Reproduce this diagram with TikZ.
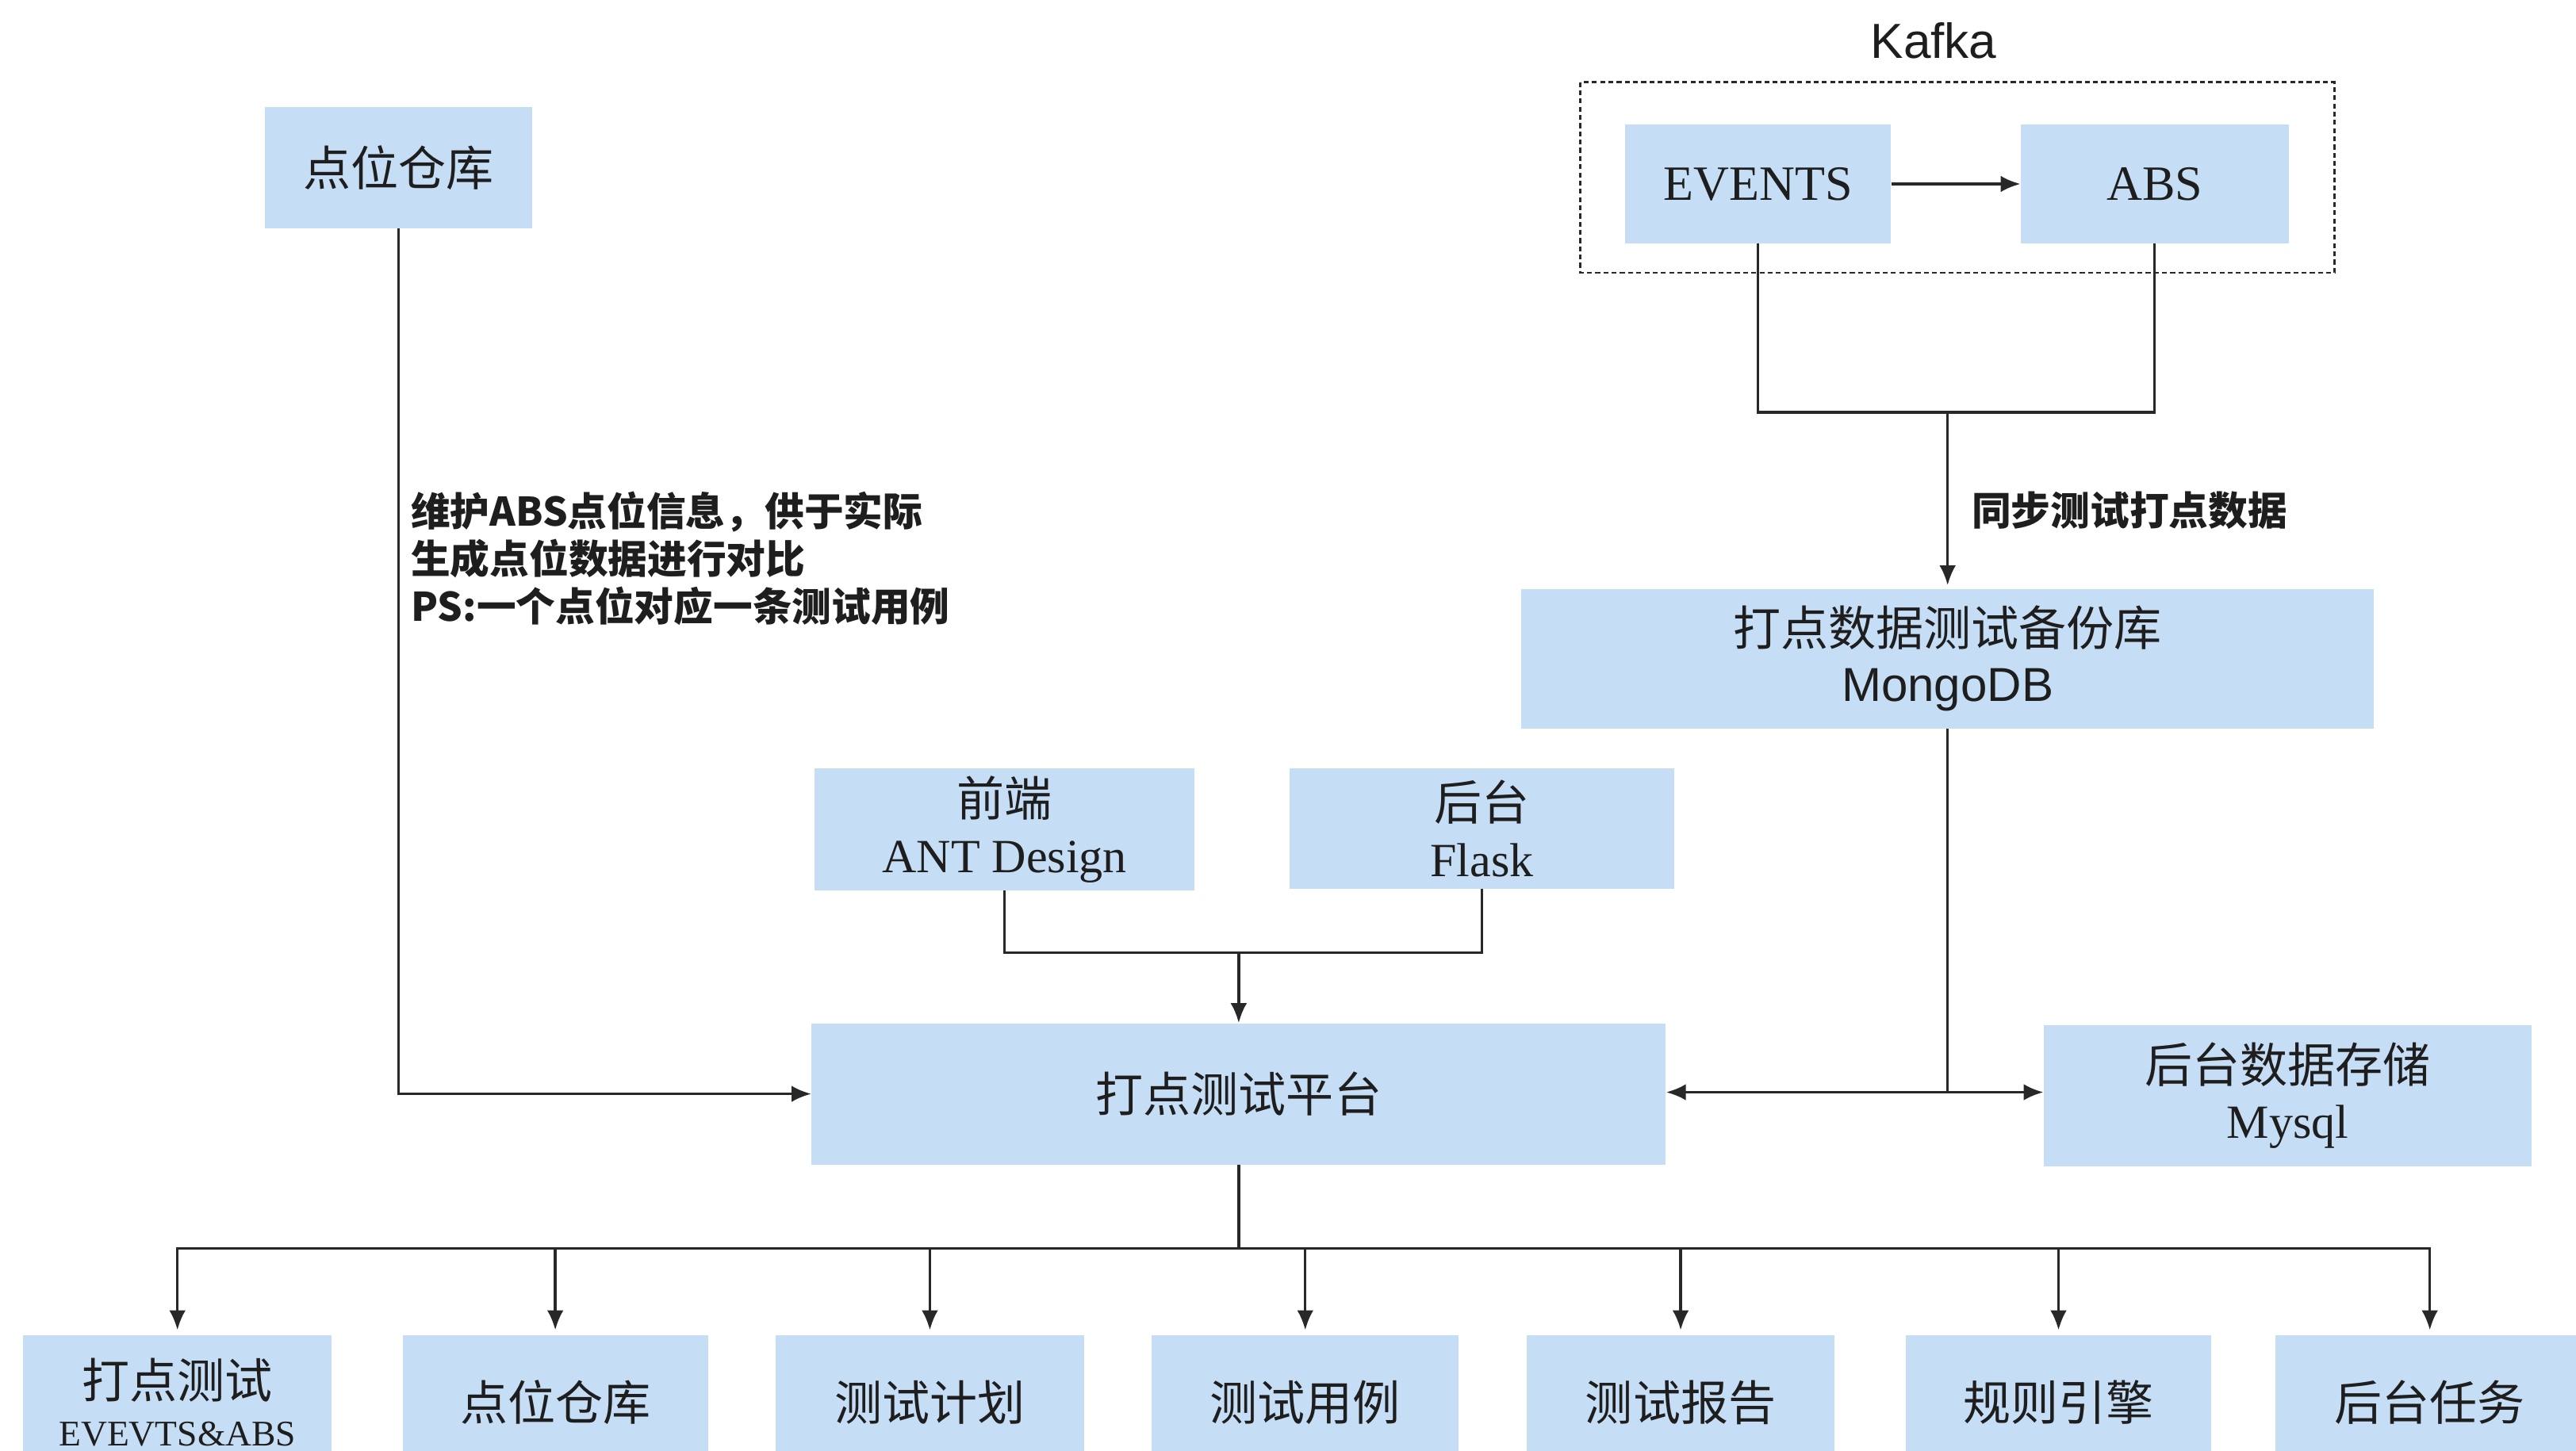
\documentclass[tikz,border=0pt]{standalone}
\usepackage{fontspec}
\setmainfont{Liberation Serif}
\newfontfamily\cjk{Noto Sans CJK SC}
\newfontfamily\hel{Liberation Sans}
\usetikzlibrary{arrows.meta}
\definecolor{boxblue}{RGB}{197,221,245}
\definecolor{linegray}{RGB}{40,40,40}
\definecolor{txt}{RGB}{30,30,30}
\begin{document}
\begin{tikzpicture}[x=1pt,y=-1pt,
  box/.style={fill=boxblue, draw=none, inner sep=0pt, align=center, text=txt,
    font=\fontsize{29}{34}\selectfont},
  conn/.style={draw=linegray, line width=1.6pt},
  arr/.style={conn, -{Latex[length=12pt,width=10pt]}},
  darr/.style={conn, {Latex[length=12pt,width=10pt]}-{Latex[length=12pt,width=10pt]}},
  note/.style={font=\cjk\bfseries\fontsize{24}{29}\selectfont, align=left, inner sep=0pt, anchor=west, text=txt}]
\clip (0,0) rectangle (1568,883);
\fill[white] (0,0) rectangle (1568,883);

% top-left store
\node[box, minimum width=163pt, minimum height=74pt] (ck) at (242.5,102) {\cjk 点位仓库};

% Kafka group
\node[font=\hel\fontsize{30}{34}\selectfont, text=txt, inner sep=0pt] (kafka) at (1177,25) {Kafka};
\draw[line width=1.2pt, draw=linegray, dash pattern=on 3pt off 2pt] (962,50) rectangle (1421,166);
\node[box, minimum width=162pt, minimum height=72pt, font=\fontsize{30}{34}\selectfont] (ev) at (1070,112) {EVENTS};
\node[box, minimum width=163pt, minimum height=72pt, font=\fontsize{30}{34}\selectfont] (ab) at (1311.5,112) {ABS};
\draw[arr] (ev.east) -- (ab.west);

% MongoDB
\node[box, minimum width=519pt, minimum height=85pt] (mongo) at (1185.5,401)
  {{\cjk 打点数据测试备份库}\\{\hel MongoDB}};
\coordinate (j1) at (1185.5,251);
\draw[conn] (ev.south) |- (j1) -| (ab.south);
\draw[arr] (j1) -- ([yshift=2pt]mongo.north);
\node[note] (syn) at (1200,311) {同步测试打点数据};

% front / back end
\node[box, minimum width=231pt, minimum height=74pt] (fe) at (611.5,505) {{\cjk 前端}\\ANT Design};
\node[box, minimum width=234pt, minimum height=73pt] (be) at (902,504.5) {{\cjk 后台}\\Flask};

% platform
\node[box, minimum width=520pt, minimum height=86pt] (plat) at (754,666) {\cjk 打点测试平台};
\node[box, minimum width=297pt, minimum height=86pt] (mysql) at (1392.5,667) {{\cjk 后台数据存储}\\Mysql};

\coordinate (j2) at (754,580);
\draw[conn] (fe.south) |- (j2) -| (be.south);
\draw[arr] (j2) -- (plat.north);

\draw[arr] (ck.south) |- (plat.west);
\node[note] (memo) at (250,340) {维护ABS点位信息，供于实际\\生成点位数据进行对比\\PS:一个点位对应一条测试用例};

\coordinate (j4) at (1185.5,665);
\draw[conn] (mongo.south) -- (j4);
\draw[darr] (plat.east |- j4) -- (mysql.west |- j4);

% bottom modules
\node[box, minimum width=188pt, minimum height=82pt] (b1) at (108,854)
  {{\cjk 打点测试}\\[-5pt]{\fontsize{22}{24}\selectfont EVEVTS\&ABS}};
\node[box, minimum width=186pt, minimum height=82pt] (b2) at (338,854) {\cjk 点位仓库};
\node[box, minimum width=188pt, minimum height=82pt] (b3) at (566,854) {\cjk 测试计划};
\node[box, minimum width=187pt, minimum height=82pt] (b4) at (794.5,854) {\cjk 测试用例};
\node[box, minimum width=187pt, minimum height=82pt] (b5) at (1023,854) {\cjk 测试报告};
\node[box, minimum width=186pt, minimum height=82pt] (b6) at (1253,854) {\cjk 规则引擎};
\node[box, minimum width=188pt, minimum height=82pt] (b7) at (1479,854) {\cjk 后台任务};

\coordinate (j3) at (754,760);
\draw[conn] (plat.south) -- (j3);
\foreach \b in {b1,b2,b3,b4,b5,b6,b7} {
  \draw[arr] (j3) -| ([yshift=3pt]\b.north);
}
\end{tikzpicture}
\end{document}
